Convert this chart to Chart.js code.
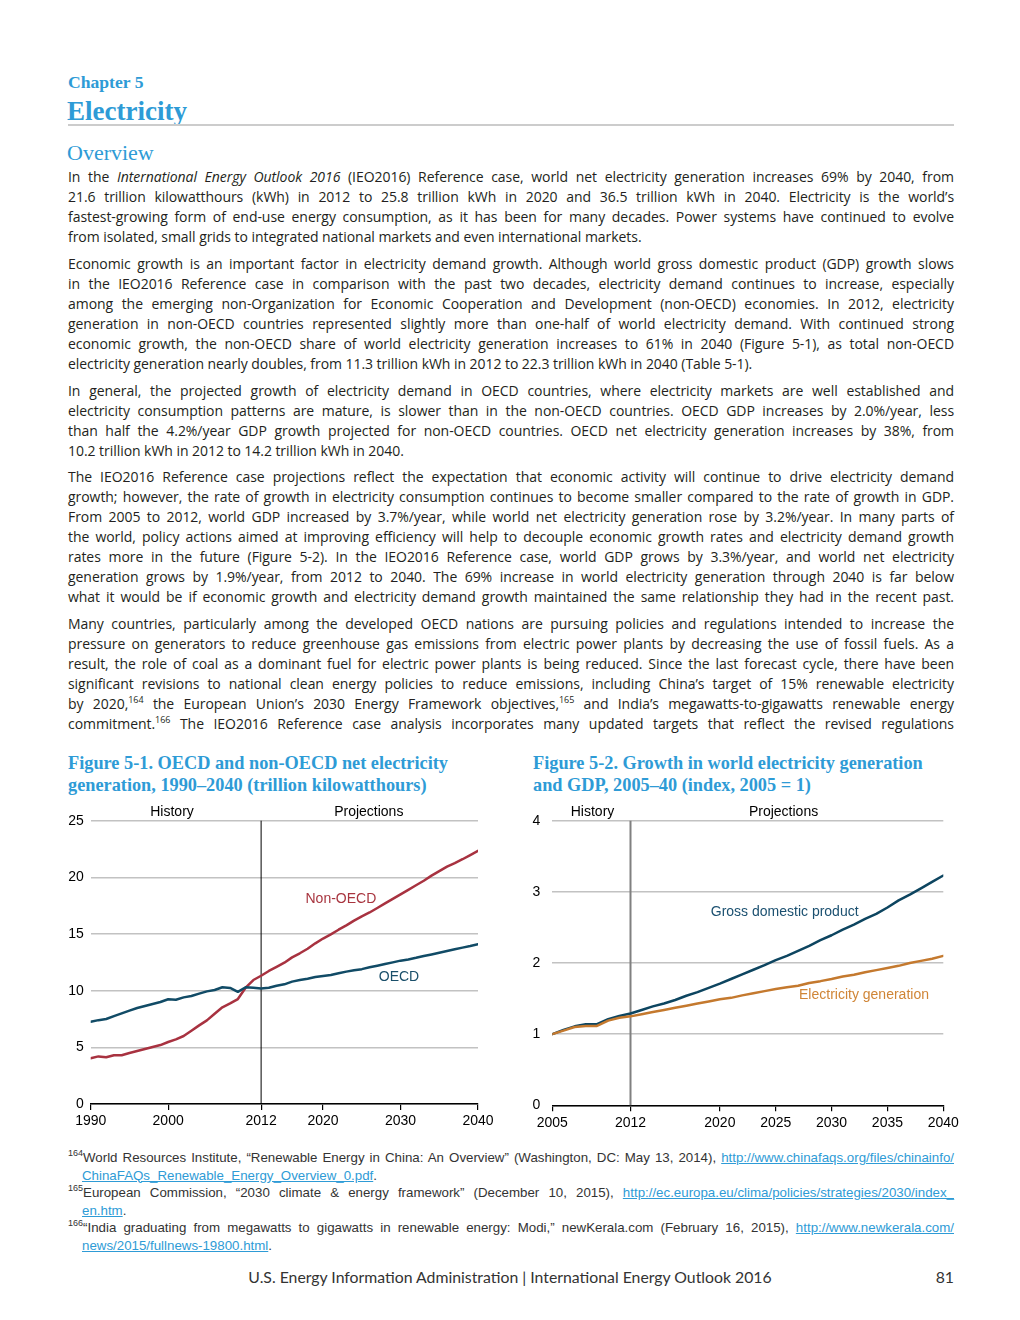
<!DOCTYPE html>
<html>
<head>
<meta charset="utf-8">
<script src="https://cdn.jsdelivr.net/npm/chart.js@4"></script>
<style>
  body { margin: 0; background: #fff; }
  #page { position: relative; width: 1020px; height: 1320px; overflow: hidden; color: #231f20; }
  .abs { position: absolute; }
  .serif { font-family: "Liberation Serif", "Times New Roman", serif; color: #2e9bd6; }
  .para { position: absolute; left: 68px; width: 886px; font-family: "Open Sans", Lato, sans-serif; font-size: 14px; letter-spacing: -0.05px; }
  .para div { height: 20px; line-height: 20px; white-space: nowrap; }
  .para div.j { text-align: justify; text-align-last: justify; white-space: normal; }
  sup { font-size: 9px; line-height: 0; vertical-align: 6px; }
  .fn { position: absolute; left: 68px; width: 886px; font-family: "Liberation Sans Narrow", "Liberation Sans", sans-serif; font-size: 13.3px; color: #333; }
  .fn div { height: 17.6px; line-height: 17.6px; white-space: nowrap; }
  .fn div.j { text-align: justify; text-align-last: justify; white-space: normal; }
  .fn div.in { padding-left: 14px; }
  .fn a { color: #2e9bd6; text-decoration: underline; }
  canvas { position: absolute; }
</style>
</head>
<body>
<div id="page">
  <div class="abs serif" style="left:68px; top:71px; font-size:17.6px; font-weight:bold; line-height:22px;">Chapter 5</div>
  <div class="abs serif" style="left:67px; top:95px; font-size:27px; font-weight:bold; line-height:32px;">Electricity</div>
  <div class="abs" style="left:68px; top:124px; width:886px; height:2px; background:#cccccc;"></div>
  <div class="abs serif" style="left:67px; top:139px; font-size:22px; line-height:28px;">Overview</div>

  <div class="para" style="top:167px;">
    <div class="j">In the <i>International Energy Outlook 2016</i> (IEO2016) Reference case, world net electricity generation increases 69% by 2040, from</div>
    <div class="j">21.6 trillion kilowatthours (kWh) in 2012 to 25.8 trillion kWh in 2020 and 36.5 trillion kWh in 2040. Electricity is the world’s</div>
    <div class="j">fastest-growing form of end-use energy consumption, as it has been for many decades. Power systems have continued to evolve</div>
    <div>from isolated, small grids to integrated national markets and even international markets.</div>
  </div>

  <div class="para" style="top:254px;">
    <div class="j">Economic growth is an important factor in electricity demand growth. Although world gross domestic product (GDP) growth slows</div>
    <div class="j">in the IEO2016 Reference case in comparison with the past two decades, electricity demand continues to increase, especially</div>
    <div class="j">among the emerging non-Organization for Economic Cooperation and Development (non-OECD) economies. In 2012, electricity</div>
    <div class="j">generation in non-OECD countries represented slightly more than one-half of world electricity demand. With continued strong</div>
    <div class="j">economic growth, the non-OECD share of world electricity generation increases to 61% in 2040 (Figure 5-1), as total non-OECD</div>
    <div>electricity generation nearly doubles, from 11.3 trillion kWh in 2012 to 22.3 trillion kWh in 2040 (Table 5-1).</div>
  </div>

  <div class="para" style="top:381px;">
    <div class="j">In general, the projected growth of electricity demand in OECD countries, where electricity markets are well established and</div>
    <div class="j">electricity consumption patterns are mature, is slower than in the non-OECD countries. OECD GDP increases by 2.0%/year, less</div>
    <div class="j">than half the 4.2%/year GDP growth projected for non-OECD countries. OECD net electricity generation increases by 38%, from</div>
    <div>10.2 trillion kWh in 2012 to 14.2 trillion kWh in 2040.</div>
  </div>

  <div class="para" style="top:467px;">
    <div class="j">The IEO2016 Reference case projections reflect the expectation that economic activity will continue to drive electricity demand</div>
    <div class="j">growth; however, the rate of growth in electricity consumption continues to become smaller compared to the rate of growth in GDP.</div>
    <div class="j">From 2005 to 2012, world GDP increased by 3.7%/year, while world net electricity generation rose by 3.2%/year. In many parts of</div>
    <div class="j">the world, policy actions aimed at improving efficiency will help to decouple economic growth rates and electricity demand growth</div>
    <div class="j">rates more in the future (Figure 5-2). In the IEO2016 Reference case, world GDP grows by 3.3%/year, and world net electricity</div>
    <div class="j">generation grows by 1.9%/year, from 2012 to 2040. The 69% increase in world electricity generation through 2040 is far below</div>
    <div class="j">what it would be if economic growth and electricity demand growth maintained the same relationship they had in the recent past.</div>
  </div>

  <div class="para" style="top:614px;">
    <div class="j">Many countries, particularly among the developed OECD nations are pursuing policies and regulations intended to increase the</div>
    <div class="j">pressure on generators to reduce greenhouse gas emissions from electric power plants by decreasing the use of fossil fuels. As a</div>
    <div class="j">result, the role of coal as a dominant fuel for electric power plants is being reduced. Since the last forecast cycle, there have been</div>
    <div class="j">significant revisions to national clean energy policies to reduce emissions, including China’s target of 15% renewable electricity</div>
    <div class="j">by 2020,<sup>164</sup> the European Union’s 2030 Energy Framework objectives,<sup>165</sup> and India’s megawatts-to-gigawatts renewable energy</div>
    <div class="j">commitment.<sup>166</sup> The IEO2016 Reference case analysis incorporates many updated targets that reflect the revised regulations</div>
  </div>

  <div class="abs serif" style="left:68px; top:752px; font-size:18.3px; font-weight:bold; line-height:22px;">Figure 5-1. OECD and non-OECD net electricity<br>generation, 1990–2040 (trillion kilowatthours)</div>
  <div class="abs serif" style="left:533px; top:752px; font-size:18.3px; font-weight:bold; line-height:22px;">Figure 5-2. Growth in world electricity generation<br>and GDP, 2005–40 (index, 2005 = 1)</div>

  <canvas id="chart1" width="440" height="335" style="left:60px; top:800px;"></canvas>
  <canvas id="chart2" width="440" height="335" style="left:525px; top:800px;"></canvas>

  <div class="fn" style="top:1149px;">
    <div class="j"><sup>164</sup>World Resources Institute, “Renewable Energy in China: An Overview” (Washington, DC: May 13, 2014), <a>http://www.chinafaqs.org/files/chinainfo/</a></div>
    <div class="in"><a>ChinaFAQs_Renewable_Energy_Overview_0.pdf</a>.</div>
    <div class="j"><sup>165</sup>European Commission, “2030 climate &amp; energy framework” (December 10, 2015), <a>http://ec.europa.eu/clima/policies/strategies/2030/index_</a></div>
    <div class="in"><a>en.htm</a>.</div>
    <div class="j"><sup>166</sup>“India graduating from megawatts to gigawatts in renewable energy: Modi,” newKerala.com (February 16, 2015), <a>http://www.newkerala.com/</a></div>
    <div class="in"><a>news/2015/fullnews-19800.html</a>.</div>
  </div>

  <div class="abs" style="left:0; width:1020px; top:1266px; text-align:center; font-family:Lato, sans-serif; font-size:15.8px; line-height:22px; color:#333;">U.S. Energy Information Administration | International Energy Outlook 2016</div>
  <div class="abs" style="left:900px; width:54px; top:1266px; text-align:right; font-family:Lato, sans-serif; font-size:15.8px; line-height:22px; color:#333;">81</div>
</div>

<script>
// Figure 5-1 data (trillion kWh)
var years1 = [1990, 1991, 1992, 1993, 1994, 1995, 1996, 1997, 1998, 1999,
  2000, 2001, 2002, 2003, 2004, 2005, 2006, 2007, 2008, 2009,
  2010, 2011, 2012, 2013, 2014, 2015, 2016, 2017, 2018, 2019,
  2020, 2021, 2022, 2023, 2024, 2025, 2026, 2027, 2028, 2029,
  2030, 2031, 2032, 2033, 2034, 2035, 2036, 2037, 2038, 2039, 2040];
var oecd = [7.26, 7.4, 7.5, 7.76, 8.0, 8.24, 8.47, 8.65, 8.82, 9.0,
  9.24, 9.2, 9.41, 9.53, 9.74, 9.94, 10.06, 10.3, 10.24, 9.9,
  10.3, 10.26, 10.2, 10.26, 10.44, 10.56, 10.8, 10.94, 11.06, 11.2,
  11.3, 11.38, 11.53, 11.68, 11.8, 11.9, 12.06, 12.2, 12.35, 12.5,
  12.65, 12.76, 12.9, 13.06, 13.2, 13.35, 13.5, 13.65, 13.8, 13.94, 14.1];
var nonOecd = [4.03, 4.2, 4.12, 4.3, 4.3, 4.5, 4.68, 4.85, 5.03, 5.2,
  5.47, 5.7, 6.0, 6.47, 6.94, 7.38, 7.97, 8.53, 8.88, 9.26,
  10.26, 10.94, 11.32, 11.74, 12.1, 12.47, 12.94, 13.3, 13.7, 14.18,
  14.6, 14.97, 15.38, 15.76, 16.18, 16.56, 16.9, 17.3, 17.7, 18.1,
  18.5, 18.9, 19.3, 19.7, 20.15, 20.55, 20.94, 21.26, 21.6, 21.97, 22.35];
var xTicks1 = [1990, 2000, 2012, 2020, 2030, 2040];

// Figure 5-2 data (index, 2005 = 1)
var years2 = [2005, 2006, 2007, 2008, 2009, 2010, 2011, 2012, 2013, 2014,
  2015, 2016, 2017, 2018, 2019, 2020, 2021, 2022, 2023, 2024,
  2025, 2026, 2027, 2028, 2029, 2030, 2031, 2032, 2033, 2034,
  2035, 2036, 2037, 2038, 2039, 2040];
var gdp = [1.0, 1.06, 1.11, 1.14, 1.14, 1.21, 1.255, 1.29, 1.34, 1.39,
  1.43, 1.48, 1.54, 1.59, 1.65, 1.71, 1.775, 1.84, 1.905, 1.97,
  2.04, 2.1, 2.17, 2.24, 2.32, 2.39, 2.47, 2.54, 2.62, 2.69,
  2.78, 2.88, 2.96, 3.05, 3.14, 3.23];
var elecGen = [1.0, 1.05, 1.1, 1.115, 1.115, 1.19, 1.23, 1.25, 1.28, 1.31,
  1.34, 1.37, 1.4, 1.43, 1.46, 1.49, 1.51, 1.545, 1.575, 1.605,
  1.635, 1.66, 1.68, 1.72, 1.745, 1.775, 1.81, 1.835, 1.87, 1.9,
  1.93, 1.96, 2.0, 2.03, 2.06, 2.1];
var xTicks2 = [2005, 2012, 2020, 2025, 2030, 2035, 2040];

var FONT = { family: '"Liberation Sans", Arial, sans-serif', size: 14 };

function pts(xs, ys) {
  return xs.map(function (x, i) { return { x: x, y: ys[i] }; });
}

// draws the 2012 divider, History/Projections headers and line labels
var annotate = {
  id: 'annotate',
  beforeDatasetsDraw: function (chart, args, opts) {
    var ctx = chart.ctx, a = chart.chartArea;
    var x = chart.scales.x.getPixelForValue(opts.divider);
    ctx.save();
    ctx.strokeStyle = opts.dividerColor;
    ctx.lineWidth = opts.dividerWidth;
    ctx.beginPath();
    ctx.moveTo(x, a.top);
    ctx.lineTo(x, a.bottom);
    ctx.stroke();
    ctx.restore();
  },
  afterDraw: function (chart, args, opts) {
    var ctx = chart.ctx, a = chart.chartArea;
    var sx = chart.scales.x, sy = chart.scales.y;
    ctx.save();
    ctx.font = FONT.size + 'px ' + FONT.family;
    ctx.textAlign = 'center';
    ctx.textBaseline = 'middle';
    ctx.fillStyle = '#000';
    opts.headers.forEach(function (h) {
      ctx.fillText(h.text, sx.getPixelForValue(h.x), a.top - 9);
    });
    opts.labels.forEach(function (l) {
      ctx.fillStyle = l.color;
      ctx.fillText(l.text, sx.getPixelForValue(l.x), sy.getPixelForValue(l.y));
    });
    ctx.restore();
  }
};

function makeChart(id, cfg) {
  return new Chart(document.getElementById(id), {
    type: 'line',
    data: { datasets: cfg.datasets },
    plugins: [annotate],
    options: {
      responsive: false,
      animation: false,
      devicePixelRatio: 1,
      layout: { padding: cfg.padding },
      plugins: {
        legend: { display: false },
        tooltip: { enabled: false },
        annotate: cfg.annotate
      },
      elements: { point: { radius: 0 }, line: { tension: 0, borderCapStyle: 'round', borderJoinStyle: 'round' } },
      scales: {
        x: {
          type: 'linear', min: cfg.xMin, max: cfg.xMax,
          afterBuildTicks: function (s) { s.ticks = cfg.xTicks.map(function (v) { return { value: v }; }); },
          ticks: { font: FONT, color: '#000', padding: 3, maxRotation: 0, autoSkip: false,
                   callback: function (v) { return String(v); } },
          grid: { drawOnChartArea: false, drawTicks: true, tickLength: 6, color: '#000', lineWidth: 1.2 },
          border: { color: '#000', width: 1.5 },
          afterFit: function (s) { s.height = cfg.xHeight; }
        },
        y: {
          min: 0, max: cfg.yMax,
          ticks: { stepSize: cfg.yStep, font: FONT, color: '#000', padding: cfg.yPad },
          grid: { color: '#c2c2c2', lineWidth: 1.5, drawTicks: false },
          border: { display: false },
          afterFit: function (s) { s.width = cfg.yWidth; }
        }
      }
    }
  });
}

makeChart('chart1', {
  datasets: [
    { data: pts(years1, oecd), borderColor: '#114b66', borderWidth: 2.5 },
    { data: pts(years1, nonOecd), borderColor: '#a83240', borderWidth: 2.5 }
  ],
  padding: { top: 20.7, right: 22, bottom: 0, left: 0 },
  xMin: 1990, xMax: 2040, xTicks: xTicks1, xHeight: 31,
  yMax: 25, yStep: 5, yWidth: 30.7, yPad: 7,
  annotate: {
    divider: 2012, dividerColor: '#000', dividerWidth: 1,
    headers: [{ text: 'History', x: 2000.5 }, { text: 'Projections', x: 2025.9 }],
    labels: [
      { text: 'Non-OECD', x: 2022.3, y: 18.1, color: '#a8353f' },
      { text: 'OECD', x: 2029.8, y: 11.2, color: '#1a4f6a' }
    ]
  }
});

makeChart('chart2', {
  datasets: [
    { data: pts(years2, elecGen), borderColor: '#c4792e', borderWidth: 2.5 },
    { data: pts(years2, gdp), borderColor: '#0d4560', borderWidth: 2.5 }
  ],
  padding: { top: 20.7, right: 21.7, bottom: 0, left: 0 },
  xMin: 2005, xMax: 2040, xTicks: xTicks2, xHeight: 29.7,
  yMax: 4, yStep: 1, yWidth: 27.3, yPad: 12,
  annotate: {
    divider: 2012, dividerColor: '#808080', dividerWidth: 2,
    headers: [{ text: 'History', x: 2008.6 }, { text: 'Projections', x: 2025.7 }],
    labels: [
      { text: 'Gross domestic product', x: 2025.8, y: 2.72, color: '#1b5070' },
      { text: 'Electricity generation', x: 2032.9, y: 1.55, color: '#d08536' }
    ]
  }
});
</script>
</body>
</html>
